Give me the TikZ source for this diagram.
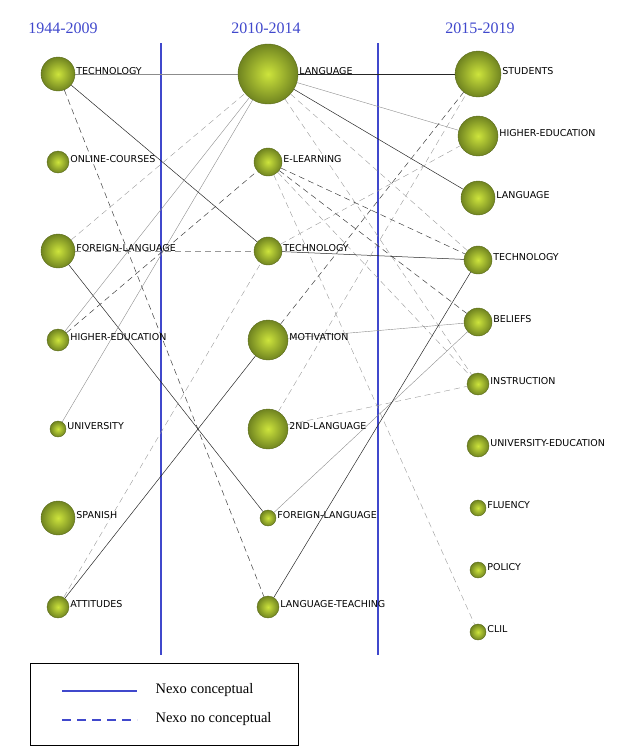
\documentclass[tikz,border=0pt]{standalone}
\usepackage{fontspec}
\setmainfont{Liberation Serif}
\newfontfamily\lblfont{DejaVu Sans}
\usetikzlibrary{positioning}
\definecolor{nexo}{RGB}{64,72,204}
\definecolor{ballin}{RGB}{205,228,60}
\definecolor{ballout}{RGB}{112,132,32}
\tikzset{
  theme/.style={circle,inner sep=0pt,minimum size=#1,inner color=ballin,outer color=ballout,draw=ballout!80!black,thin},
  lbl/.style={font=\lblfont\fontsize{9.5}{11}\selectfont,inner sep=1pt,anchor=west},
  head/.style={font=\fontsize{16}{18}\selectfont,text=nexo},
  con/.style={-,line width=0.5pt,black!85},
  conl/.style={-,line width=0.4pt,black!45},
  nc/.style={-,dashed,dash pattern=on 6pt off 4pt,line width=0.5pt,black!75},
  ncl/.style={-,dashed,dash pattern=on 6pt off 4pt,line width=0.4pt,black!40},
}
\begin{document}
\begin{tikzpicture}[x=1pt,y=-1pt]
  \useasboundingbox (0,0) rectangle (630,756);
  % periods
  \node[head] (h1) at (63,28)  {1944-2009};
  \node[head] (h2) at (266,28) {2010-2014};
  \node[head] (h3) at (480,28) {2015-2019};
  \coordinate (s1a) at (161,43); \coordinate (s1b) at (161,655);
  \coordinate (s2a) at (378,43); \coordinate (s2b) at (378,655);
  \draw[nexo,line width=2pt] (s1a) -- (s1b) (s2a) -- (s2b);
  % 1944-2009
  \node[theme=34pt] (a1) at (58,74)  {};
  \node[theme=22pt] (a2) at (58,162) {};
  \node[theme=34pt] (a3) at (58,251) {};
  \node[theme=22pt] (a4) at (58,340) {};
  \node[theme=16pt] (a5) at (58,429) {};
  \node[theme=34pt] (a6) at (58,518) {};
  \node[theme=22pt] (a7) at (58,607) {};
  % 2010-2014
  \node[theme=60pt] (b1) at (268,74)  {};
  \node[theme=28pt] (b2) at (268,162) {};
  \node[theme=28pt] (b3) at (268,251) {};
  \node[theme=40pt] (b4) at (268,340) {};
  \node[theme=40pt] (b5) at (268,429) {};
  \node[theme=16pt] (b6) at (268,518) {};
  \node[theme=22pt] (b7) at (268,607) {};
  % 2015-2019
  \node[theme=46pt] (c1)  at (478,74)  {};
  \node[theme=40pt] (c2)  at (478,136) {};
  \node[theme=34pt] (c3)  at (478,198) {};
  \node[theme=28pt] (c4)  at (478,260) {};
  \node[theme=28pt] (c5)  at (478,322) {};
  \node[theme=22pt] (c6)  at (478,384) {};
  \node[theme=22pt] (c7)  at (478,446) {};
  \node[theme=16pt] (c8)  at (478,508) {};
  \node[theme=16pt] (c9)  at (478,570) {};
  \node[theme=16pt] (c10) at (478,632) {};
  % connectors
  \draw[conl] (a1) -- (b1);
  \draw[con]  (a1) -- (b3);
  \draw[nc]   (a1) -- (b7);
  \draw[ncl]  (a3) -- (b1);
  \draw[ncl]  (a3) -- (b3);
  \draw[con]  (a3) -- (b6);
  \draw[conl] (a4) -- (b1);
  \draw[nc]   (a4) -- (b2);
  \draw[conl] (a5) -- (b1);
  \draw[con]  (a7) -- (b4);
  \draw[ncl]  (a7) -- (b3);
  \draw[con]  (b1) -- (c1);
  \draw[conl] (b1) -- (c2);
  \draw[con]  (b1) -- (c3);
  \draw[ncl]  (b1) -- (c4);
  \draw[ncl]  (b1) -- (c6);
  \draw[nc]   (b2) -- (c4);
  \draw[nc]   (b2) -- (c5);
  \draw[ncl]  (b2) -- (c6);
  \draw[ncl]  (b2) -- (c10);
  \draw[con]  (b3) -- (c4);
  \draw[ncl]  (b3) -- (c2);
  \draw[nc]   (b4) -- (c1);
  \draw[conl] (b4) -- (c5);
  \draw[ncl]  (b5) -- (c1);
  \draw[ncl]  (b5) -- (c6);
  \draw[conl] (b6) -- (c5);
  \draw[con]  (b7) -- (c4);
  % labels
  \foreach \n/\t in {a1/TECHNOLOGY,a2/ONLINE-COURSES,a3/FOREIGN-LANGUAGE,a4/HIGHER-EDUCATION,
      a5/UNIVERSITY,a6/SPANISH,a7/ATTITUDES,b1/LANGUAGE,b2/E-LEARNING,b3/TECHNOLOGY,
      b4/MOTIVATION,b5/2ND-LANGUAGE,b6/FOREIGN-LANGUAGE,b7/LANGUAGE-TEACHING,
      c1/STUDENTS,c2/HIGHER-EDUCATION,c3/LANGUAGE,c4/TECHNOLOGY,c5/BELIEFS,
      c6/INSTRUCTION,c7/UNIVERSITY-EDUCATION,c8/FLUENCY,c9/POLICY,c10/CLIL}
    \node[lbl] at ([yshift=3pt]\n.east) {\t};
  % legend
  \node[draw,line width=1.2pt,minimum width=268pt,minimum height=82pt,anchor=north west] (leg) at (30,663) {};
  \coordinate (l1a) at (62,691); \coordinate (l1b) at (137,691);
  \coordinate (l2a) at (62,720); \coordinate (l2b) at (137,720);
  \draw[nexo,line width=1.5pt] (l1a) -- (l1b);
  \draw[nexo,line width=1.5pt,dash pattern=on 9pt off 6pt] (l2a) -- (l2b);
  \node[anchor=west,font=\fontsize{14.5}{16}\selectfont] (t1) at (152,690) {Nexo conceptual};
  \node[anchor=west,font=\fontsize{14.5}{16}\selectfont] (t2) at (152,719) {Nexo no conceptual};
\end{tikzpicture}
\end{document}
